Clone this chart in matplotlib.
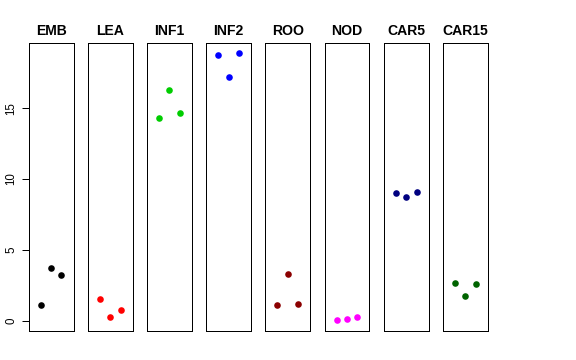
import matplotlib
matplotlib.use("Agg")
import matplotlib.pyplot as plt
import numpy as np

plt.rcParams['font.family'] = ['Liberation Sans', 'DejaVu Sans']

tissues = ["EMB", "LEA", "INF1", "INF2", "ROO", "NOD", "CAR5", "CAR15"]
colors = ["#000000", "#FF0000", "#00CD00", "#0000FF", "#8B0000", "#FF00FF", "#000080", "#006400"]
emb = [1.08, 3.71, 3.24]
lea = [1.51, 0.28, 0.76]
inf1 = [14.29, 16.30, 14.67]
inf2 = [18.78, 17.20, 18.87]
roo = [1.11, 3.28, 1.20]
nod = [0.02, 0.12, 0.26]
car5 = [9.00, 8.74, 9.07]
car15 = [2.67, 1.77, 2.55]
series = [emb, lea, inf1, inf2, roo, nod, car5, car15]
yticks = [0, 5, 10, 15]

allv = np.concatenate([np.array(s) for s in series])
r = allv.max() - allv.min()
ylim = (allv.min() - 0.04 * r, allv.max() + 0.04 * r)

W, H = 576, 360
fig = plt.figure(figsize=(W / 72, H / 72), dpi=72)

left0, step, width = 28.7, 59.18, 44.8
top, bottom = 42.7, 331.0
for i, (name, vals, col) in enumerate(zip(tissues, series, colors)):
    l = left0 + i * step
    ax = fig.add_axes([l / W, 1 - bottom / H, width / W, (bottom - top) / H])
    ax.plot([1, 2, 3], vals, 'o', color=col, markersize=6.6, markeredgewidth=0)
    ax.set_xlim(-0.16, 4.16)
    ax.set_ylim(*ylim)
    ax.set_xticks([])
    for s in ax.spines.values():
        s.set_linewidth(1.0)
        s.set_color('#000000')
    ax.set_title(name, fontsize=14, fontweight='bold', pad=8)
    if i == 0:
        ax.set_yticks(yticks)
        ax.set_yticklabels([str(t) for t in yticks], rotation=90, va='center', fontsize=11.5)
        ax.tick_params(axis='y', length=7.5, width=1, pad=4)
    else:
        ax.set_yticks([])

fig.savefig("out.png", dpi=72)
